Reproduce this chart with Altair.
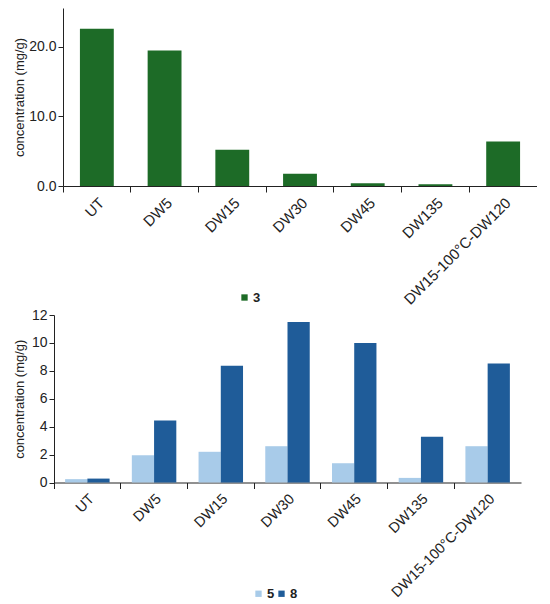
import altair as alt
import pandas as pd

categories = ["UT", "DW5", "DW15", "DW30", "DW45", "DW135", "DW15-100°C-DW120"]
c3 = [22.6, 19.5, 5.2, 1.77, 0.4, 0.25, 6.4]
c5 = [0.24, 1.96, 2.2, 2.6, 1.38, 0.33, 2.6]
c8 = [0.28, 4.44, 8.36, 11.5, 10.0, 3.27, 8.52]

top_df = pd.DataFrame({"sample": categories, "value": c3, "compound": ["3"] * len(categories)})
bot_df = pd.DataFrame({
    "sample": categories * 2,
    "value": c5 + c8,
    "compound": ["5"] * len(categories) + ["8"] * len(categories),
})

FONT = "Liberation Sans"
GREEN = "#1d6b27"
LIGHT = "#a8cbe9"
DARK = "#1f5c99"
INK = "#222222"
SHIFT = 9


def x_axis(bp, fs):
    return alt.Axis(
        title=None, labelAngle=315, labelAlign="right", labelBaseline="top",
        labelFontSize=fs, labelFont=FONT, labelColor=INK, labelPadding=3,
        tickSize=6, tickColor=INK, domainColor=INK, bandPosition=bp,
    )


def y_axis(vals, fmt, tp, off=0):
    return alt.Axis(
        values=vals, format=fmt, title="concentration (mg/g)",
        titleFont=FONT, titleFontSize=13, titleFontWeight="normal", titleColor=INK,
        titlePadding=tp, labelFont=FONT, labelFontSize=14, labelColor=INK,
        labelPadding=2, tickSize=5, tickColor=INK, domainColor=INK, grid=False,
        offset=off,
    )


def legend(x, y):
    return alt.Legend(
        title=None, orient="none", legendX=x, legendY=y, direction="horizontal",
        symbolType="square", symbolSize=40, symbolStrokeWidth=0, labelFont=FONT,
        labelFontSize=13, labelFontWeight="bold", labelColor=INK, labelOffset=2,
        columnPadding=0,
    )


top = alt.Chart(top_df).mark_bar().encode(
    x=alt.X("sample:N", sort=categories,
            scale=alt.Scale(paddingInner=0.5, paddingOuter=0.25), axis=x_axis(-0.5, 15)),
    y=alt.Y("value:Q", scale=alt.Scale(domain=[0, 25.6], nice=False), axis=y_axis([0, 10, 20], ".1f", 2)),
    color=alt.Color("compound:N", scale=alt.Scale(domain=["3"], range=[GREEN]), legend=legend(175, 283)),
).properties(width=474, height=178)

BW = 467
bot = alt.Chart(bot_df).mark_bar().encode(
    x=alt.X("sample:N", sort=categories,
            scale=alt.Scale(paddingInner=1 / 3, paddingOuter=1 / 6, range=[-SHIFT, BW - SHIFT]),
            axis=x_axis(-0.25, 14.5)),
    xOffset=alt.XOffset("compound:N", sort=["5", "8"]),
    y=alt.Y("value:Q", scale=alt.Scale(domain=[0, 12], nice=False),
            axis=y_axis([0, 2, 4, 6, 8, 10, 12], "d", 5, SHIFT)),
    color=alt.Color("compound:N", scale=alt.Scale(domain=["5", "8"], range=[LIGHT, DARK]),
                    legend=legend(189, 272)),
).properties(width=BW - SHIFT, height=167.5)

chart = alt.vconcat(top, bot, spacing=0).resolve_scale(color="independent").properties(
    padding={"left": 5, "top": 0, "right": 0, "bottom": 0}
).configure_view(stroke=None).configure_axis(domainWidth=1, tickWidth=1)

chart.save("out.html", embed_options={"renderer": "svg", "actions": False})
